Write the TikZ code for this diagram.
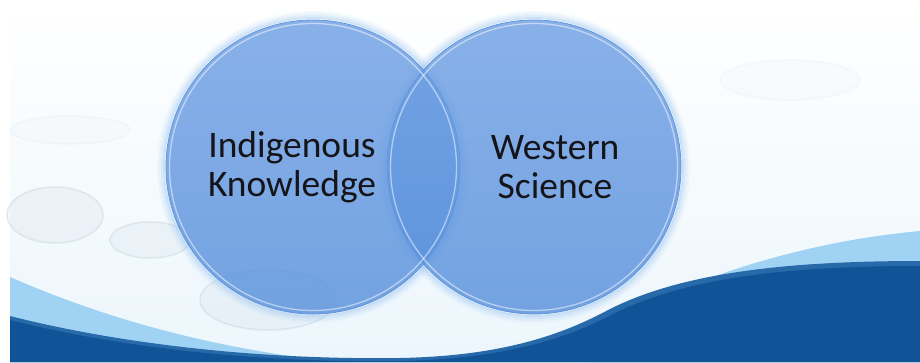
\documentclass[tikz,border=0pt]{standalone}
\usepackage{fontspec}
\setmainfont{Carlito}
\definecolor{bgbot}{RGB}{236,246,252}
\definecolor{ctop}{RGB}{112,160,228}
\definecolor{cmid}{RGB}{68,126,214}
\definecolor{cbot}{RGB}{88,144,220}
\definecolor{rimc}{RGB}{96,150,222}
\definecolor{glowc}{RGB}{150,195,240}
\definecolor{darkb}{RGB}{17,83,151}
\definecolor{darkedge}{RGB}{40,105,170}
\definecolor{lightb}{RGB}{160,210,244}
\definecolor{dropc}{RGB}{200,212,225}
\definecolor{txt}{RGB}{20,20,25}
\tikzset{
  vennfill/.style={top color=ctop, middle color=cmid, bottom color=cbot, fill opacity=0.82},
  vennrim/.style={draw=white, draw opacity=0.5, line width=1.3pt},
  vennedge/.style={draw=rimc, line width=0.8pt},
  vennlabel/.style={align=center, text=txt, font=\fontsize{37.5}{39}\selectfont, inner sep=0pt},
  drop/.style={fill=dropc, fill opacity=0.18, draw=dropc, draw opacity=0.45, line width=1.5pt}
}
\begin{document}
\begin{tikzpicture}[x=1pt,y=-1pt]
\useasboundingbox (0,0) rectangle (920,362);
\fill[white] (0,0) rectangle (920,362);
\shade[top color=white, bottom color=bgbot] (10,0) rectangle (920,362);
% faint glass drops in background
\draw[drop] (55,215) ellipse [x radius=48, y radius=28];
\draw[drop] (150,240) ellipse [x radius=40, y radius=18];
\draw[drop] (268,300) ellipse [x radius=68, y radius=30];
\draw[drop, fill opacity=0.06, draw opacity=0.12] (70,130) ellipse [x radius=60, y radius=14];
\draw[drop, fill opacity=0.05, draw opacity=0.1] (790,80) ellipse [x radius=70, y radius=20];
% lower waves
\fill[lightb] (10,277) .. controls (90,312) and (200,348) .. (340,362) -- (10,362) -- cycle;
\fill[lightb] (590,335) .. controls (680,280) and (800,242) .. (920,231) -- (920,362) -- (590,362) -- cycle;
\fill[darkedge] (10,316) .. controls (120,344) and (260,360) .. (400,358) .. controls (500,356) and (560,336) .. (610,309) .. controls (680,274) and (780,261) .. (920,261) -- (920,362) -- (10,362) -- cycle;
\fill[darkb] (10,320) .. controls (120,348) and (260,363) .. (400,361) .. controls (500,359) and (565,340) .. (615,313) .. controls (685,279) and (780,266) .. (920,266) -- (920,362) -- (10,362) -- cycle;
% glow around circles
\foreach \r/\o in {149/0.45,151/0.3,153/0.18,155/0.08}{
  \draw[glowc, opacity=\o, line width=2pt] (313,167) circle [radius=\r];
  \draw[glowc, opacity=\o, line width=2pt] (534,167) circle [radius=\r];
}
% circles
\shade[vennfill] (313,167) circle [radius=147];
\shade[vennfill] (534,167) circle [radius=147];
\draw[vennedge] (313,167) circle [radius=147];
\draw[vennedge] (534,167) circle [radius=147];
\draw[vennrim] (313,167) circle [radius=143.5];
\draw[vennrim] (534,167) circle [radius=143.5];
% labels
\node[vennlabel] (ik) at (292,167) {Indigenous\\Knowledge};
\node[vennlabel] (ws) at (555,167) {Western\\Science};
\end{tikzpicture}
\end{document}
